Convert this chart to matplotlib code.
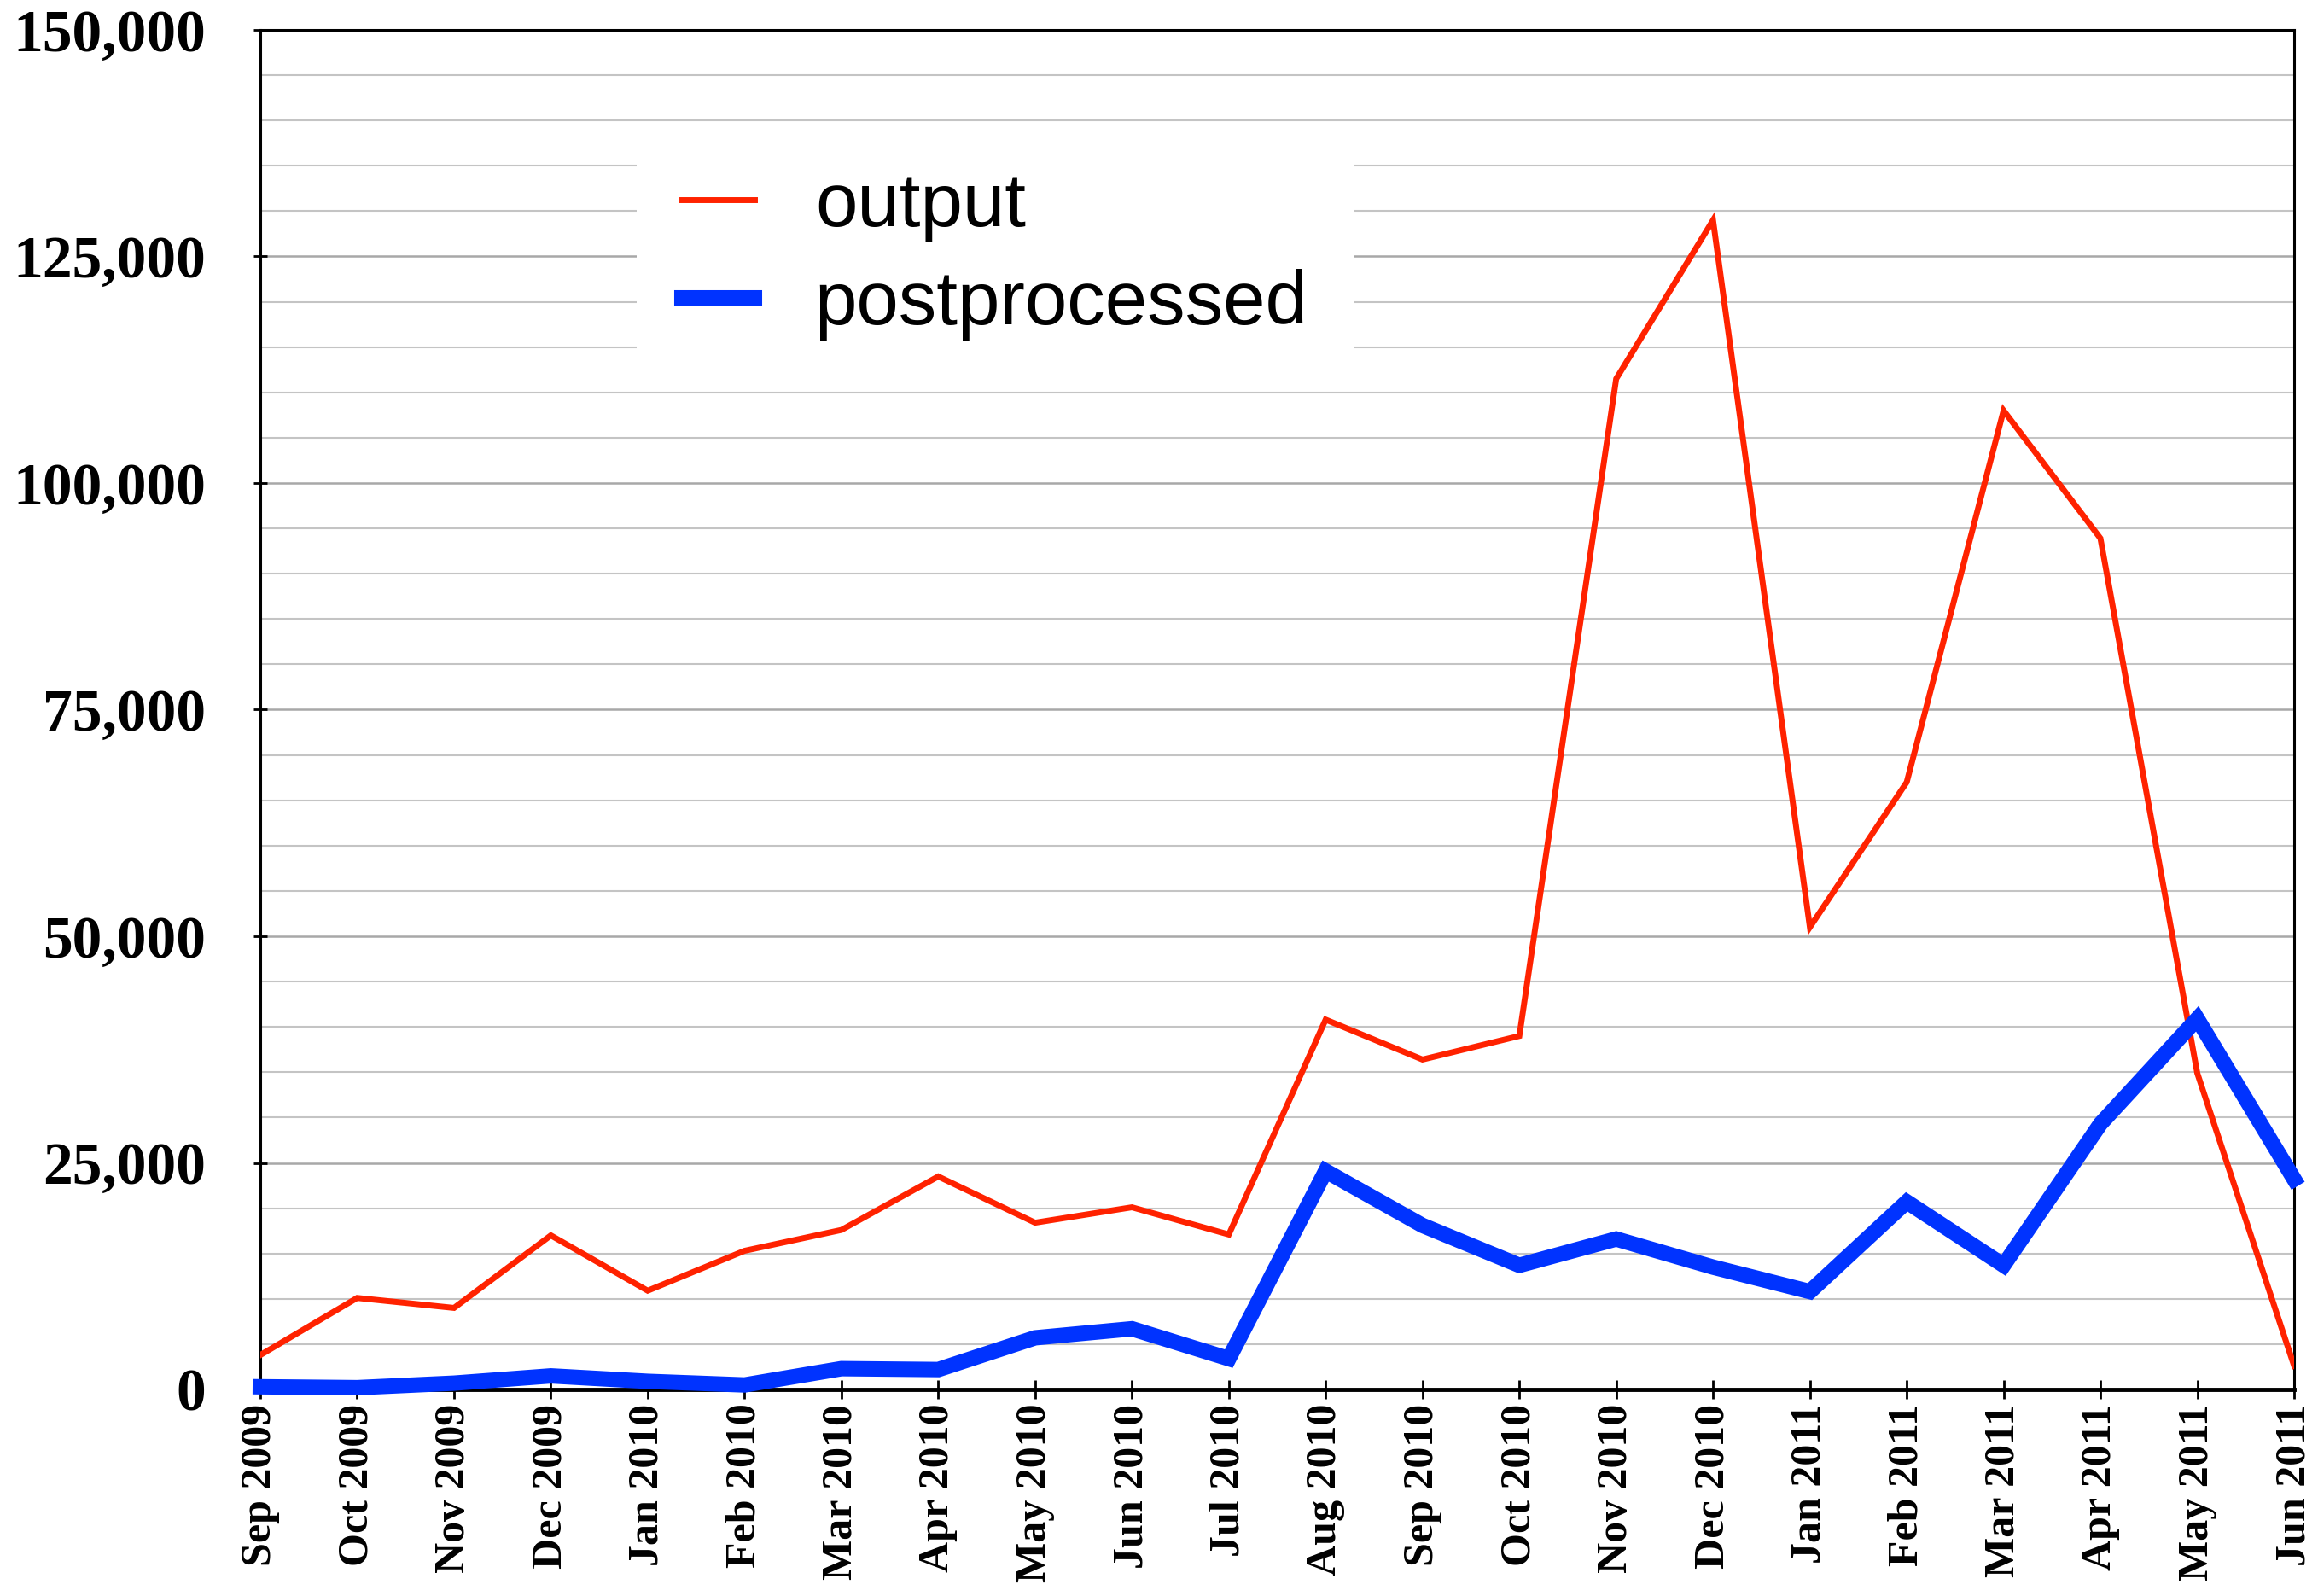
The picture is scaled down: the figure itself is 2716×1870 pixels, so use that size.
import matplotlib
matplotlib.use("Agg")
import matplotlib.pyplot as plt
from matplotlib.ticker import MultipleLocator, FuncFormatter

months = ["Sep 2009", "Oct 2009", "Nov 2009", "Dec 2009", "Jan 2010", "Feb 2010",
          "Mar 2010", "Apr 2010", "May 2010", "Jun 2010", "Jul 2010", "Aug 2010",
          "Sep 2010", "Oct 2010", "Nov 2010", "Dec 2010", "Jan 2011", "Feb 2011",
          "Mar 2011", "Apr 2011", "May 2011", "Jun 2011"]
output = [3800, 10100, 9000, 17000, 10900, 15300, 17600, 23500, 18400, 20100, 17100,
          40800, 36400, 39000, 111500, 129000, 51000, 67000, 108000, 93900, 34900, 2600]
postprocessed = [300, 200, 700, 1500, 900, 500, 2300, 2200, 5700, 6700, 3400,
                 24100, 18100, 13700, 16600, 13500, 10800, 20700, 13700, 29300, 40900, 23200]
y_ticks = [0, 25000, 50000, 75000, 100000, 125000, 150000]

fig = plt.figure(figsize=(27.16, 18.70), dpi=100)
ax = fig.add_axes([0.1123, 0.1294, 0.8774, 0.8519])

x = list(range(len(months)))
ax.plot(x, output, color="#FF2200", lw=5, label="output", zorder=3, solid_joinstyle="miter")
ax.plot(x, postprocessed, color="#0033FF", lw=13, label="postprocessed", zorder=4,
        clip_on=False, solid_joinstyle="miter")

ax.set_xlim(0, len(months) - 1)
ax.set_ylim(0, 150000)
ax.set_yticks(y_ticks)
ax.yaxis.set_minor_locator(MultipleLocator(5000))
ax.yaxis.set_major_formatter(FuncFormatter(lambda v, p: f"{int(v):,}"))
ax.grid(which="major", axis="y", color="#a8a8a8", lw=1.8, zorder=0)
ax.grid(which="minor", axis="y", color="#c4c4c4", lw=1.5, zorder=0)
ax.set_axisbelow(True)

ax.set_xticks(x)
ax.set_xticklabels(months, rotation=90, fontfamily=["Liberation Serif"], fontweight="bold",
                   fontsize=36)
for lab in ax.get_yticklabels():
    lab.set_fontfamily(["Liberation Serif"])
    lab.set_fontweight("bold")
    lab.set_fontsize(50)

ax.tick_params(axis="x", which="major", direction="inout", length=16, width=2, pad=4)
ax.tick_params(axis="y", which="major", direction="inout", length=12, width=2, pad=40)
ax.tick_params(axis="y", which="minor", length=0)
for s in ax.spines.values():
    s.set_linewidth(2.2)
    s.set_color("black")
ax.spines["bottom"].set_linewidth(3.5)

leg = ax.legend(loc="upper left", bbox_to_anchor=(0.185, 0.93), frameon=True,
                fancybox=False, edgecolor="none", facecolor="white", framealpha=1,
                prop={"family": ["Liberation Sans"], "size": 64},
                handlelength=0.95, handletextpad=0.8, labelspacing=0.35,
                borderpad=0.6, borderaxespad=0)
leg.get_frame().set_linewidth(0)
leg.set_zorder(5)

fig.savefig("out.png", dpi=100, facecolor="white")
